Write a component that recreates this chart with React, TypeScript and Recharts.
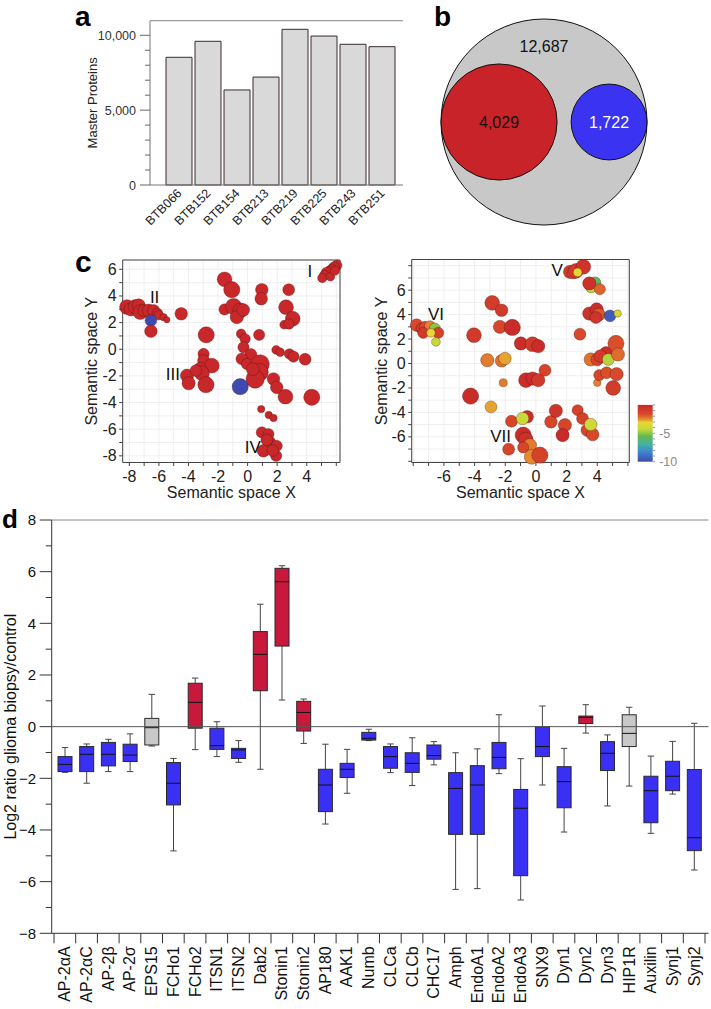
import React from "react";
import {
  BarChart,
  Bar,
  ComposedChart,
  ScatterChart,
  Scatter,
  XAxis,
  YAxis,
  ZAxis,
  CartesianGrid,
  ReferenceLine,
} from "recharts";

const FONT = "'Liberation Sans', Arial, Helvetica, sans-serif";

// ---- a: master proteins per biopsy
const biopsies = ["BTB066", "BTB152", "BTB154", "BTB213", "BTB219", "BTB225", "BTB243", "BTB251"];
const masterProteins = [8530, 9600, 6350, 7210, 10400, 9950, 9400, 9240];

// ---- b: quantified proteins and the regulated subsets
const vennNames = ["quantified", "up", "down"];
const vennCounts = [12687, 4029, 1722];

// ---- c: semantic space of GO terms, rows are [x, y, term size, log10 p]
const termsLeft: number[][] = [
  [6.03, 6.3, 2.0, 0], [5.85, 6.15, 2.2, 0], [5.69, 6.0, 2.0, 0], [5.5, 5.85, 1.8, 0], [5.35, 5.75, 2.2, 0],
  [5.2, 5.55, 1.8, 0], [5.05, 5.35, 1.6, 0], [5.6, 5.45, 1.4, 0], [5.9, 5.9, 1.6, 0],
  [-8.16, 3.17, 4.0, 0], [-7.9, 3.0, 3.2, 0], [-7.6, 3.2, 3.6, 0], [-7.37, 3.29, 3.2, 0], [-7.26, 2.79, 4.0, 0],
  [-7.0, 2.9, 2.8, 0], [-6.69, 2.91, 3.0, 0], [-6.36, 2.91, 2.6, 0], [-6.1, 2.7, 2.0, 0], [-6.02, 2.55, 1.6, 0],
  [-5.68, 2.41, 1.0, 0], [-5.46, 2.21, 0.7, 0], [-6.54, 2.16, 2.5, -10], [-6.54, 1.36, 2.9, 0], [-4.49, 2.66, 2.9, 0],
  [-1.56, 5.25, 4.0, 0], [-1.07, 4.47, 4.8, 0], [-1.56, 2.99, 2.3, 0], [-0.95, 3.21, 4.8, 0], [-0.5, 2.91, 4.0, 0],
  [-0.73, 2.41, 3.2, 0], [-0.3, 2.95, 3.0, 0], [0.96, 4.47, 2.9, 0], [0.92, 3.79, 2.9, 0],
  [2.78, 4.47, 2.6, 0], [2.6, 3.16, 4.0, 0], [3.05, 2.29, 4.0, 0], [2.47, 1.84, 1.4, 0], [2.8, 1.9, 2.0, 0],
  [0.78, 1.08, 2.3, 0], [-2.8, 1.08, 4.8, 0],
  [-0.44, 1.16, 1.7, 0], [-0.17, 0.78, 2.0, 0], [-0.28, 0.15, 2.3, 0], [0.22, -0.4, 2.6, 0], [-0.39, -0.72, 2.6, 0],
  [-0.05, -1.1, 2.3, 0], [0.85, -1.1, 6.2, 0], [0.8, -1.73, 5.8, 0], [0.51, -2.23, 6.2, 0], [0.35, -1.5, 3.0, 0],
  [1.93, -0.05, 1.4, 0], [2.2, -0.22, 1.4, 0], [2.83, -0.35, 2.0, 0], [3.1, -0.55, 2.3, 0], [3.89, -0.75, 2.6, 0],
  [1.75, -2.23, 2.9, 0], [1.97, -2.86, 2.9, 0], [2.56, -3.56, 4.0, 0], [4.34, -3.61, 4.8, 0],
  [-2.98, -0.35, 2.3, 0], [-2.98, -0.85, 2.6, 0], [-2.42, -1.23, 4.0, 0], [-3.2, -1.48, 3.2, 0], [-3.09, -1.8, 4.0, 0],
  [-4.1, -1.98, 3.2, 0], [-3.99, -2.55, 3.2, 0], [-2.82, -2.66, 4.8, 0], [-3.5, -1.6, 2.5, 0],
  [-0.5, -2.81, 4.8, -10],
  [0.92, -4.49, 1.0, 0], [1.43, -4.94, 1.0, 0], [1.75, -5.16, 1.0, 0], [0.96, -6.24, 2.3, 0], [1.41, -6.37, 2.3, 0],
  [1.48, -7.0, 2.9, 0], [1.97, -7.25, 2.3, 0], [1.07, -7.62, 2.9, 0], [1.93, -8.0, 2.3, 0], [1.3, -6.8, 2.6, 0],
  [1.7, -7.6, 2.5, 0],
];
const termsRight: number[][] = [
  [-7.78, 3.14, 2.9, -1.6], [-7.46, 2.86, 2.25, -1.0], [-7.24, 3.0, 2.25, -1.5], [-6.91, 3.05, 2.25, -2.4],
  [-6.59, 2.86, 2.25, -5.0], [-7.35, 2.51, 2.25, -0.9], [-6.37, 2.51, 2.25, -1.3], [-6.85, 2.51, 1.4, -3.1],
  [-6.52, 1.77, 1.4, -4.2],
  [-4.04, 2.32, 4.0, -0.9], [-2.85, 4.96, 4.0, -1.0], [-2.24, 4.36, 2.9, -0.9], [-2.35, 3.0, 3.2, -1.5],
  [-1.54, 2.95, 4.8, -0.2], [-0.98, 1.64, 3.2, -0.3], [-0.22, 1.58, 4.0, -0.9], [0.15, 1.42, 3.2, -0.2],
  [-3.17, 0.27, 3.2, -2.3], [-2.24, 0.22, 2.9, -2.2], [-2.02, 0.41, 2.9, -2.7],
  [-0.65, -1.36, 4.0, -0.3], [-0.22, -1.23, 3.2, -0.3], [0.15, -1.36, 3.2, -0.9], [0.59, -0.55, 2.6, -1.4],
  [-2.13, -1.58, 1.2, -2.3], [-4.26, -2.67, 4.8, -0.2], [-2.93, -3.55, 2.6, -2.7],
  [-1.59, -4.72, 2.6, -1.5], [-0.57, -4.36, 2.9, -0.2], [-0.87, -4.5, 2.9, -4.1],
  [-0.83, -5.86, 4.8, -0.2], [-0.67, -6.22, 4.0, -0.4], [-0.39, -6.68, 3.2, -2.3], [-0.83, -6.87, 2.25, -1.5],
  [-1.78, -7.01, 2.6, -1.4], [-0.28, -7.64, 4.0, -2.5], [0.26, -7.5, 4.8, -1.3],
  [0.98, -4.77, 2.9, -1.4], [1.3, -3.87, 3.2, -0.6], [1.89, -5.04, 3.2, -1.4], [1.74, -5.86, 3.2, -0.1],
  [2.72, -3.82, 2.25, -1.3], [3.04, -4.5, 2.6, -1.3], [3.35, -5.45, 2.9, -1.5], [3.7, -5.81, 2.9, -1.6],
  [3.57, -4.99, 2.9, -3.9], [4.0, -1.58, 1.0, -2.4], [5.04, -2.0, 4.0, -1.0],
  [3.57, 0.33, 3.2, -2.2], [4.0, 0.33, 2.9, -1.4], [4.57, 0.87, 2.9, -0.3], [4.2, 0.6, 3.0, -0.9],
  [4.72, 0.33, 2.6, -4.5], [4.13, -0.95, 2.25, -1.5], [4.61, -0.76, 2.6, -1.7], [5.26, -0.87, 3.2, -1.6],
  [5.22, 1.64, 4.8, -1.7], [5.35, 0.74, 3.2, -2.1], [2.87, 2.4, 2.6, -1.6],
  [3.48, 4.09, 3.2, -0.5], [3.96, 4.42, 3.2, -0.3], [4.1, 4.0, 3.0, -1.8], [3.91, 3.76, 2.6, -0.6],
  [4.83, 3.9, 2.6, -9.5], [5.33, 4.09, 1.0, -3.8],
  [3.85, 6.6, 2.6, -5.8], [3.6, 6.2, 2.0, -4.2], [3.48, 6.55, 3.2, -0.5], [4.17, 6.08, 2.25, -2.0],
  [2.22, 7.5, 3.2, -0.9], [2.45, 7.45, 3.0, -1.6], [2.61, 7.58, 4.0, -0.9], [3.09, 7.91, 4.0, -0.6],
  [2.72, 7.45, 1.4, -3.2],
];
const clustersLeft = [
  { x: 4.22, y: 5.87, label: "I" },
  { x: -6.29, y: 3.92, label: "II" },
  { x: -5.05, y: -1.85, label: "III" },
  { x: 0.35, y: -7.3, label: "IV" },
];
const clustersRight = [
  { x: 1.39, y: 7.69, label: "V" },
  { x: -6.52, y: 4.04, label: "VI" },
  { x: -2.3, y: -5.92, label: "VII" },
];

// ---- d: log2 ratio glioma biopsy / control
const proteins = [
  "AP-2αA", "AP-2αC", "AP-2β", "AP-2σ", "EPS15", "FCHo1", "FCHo2", "ITSN1", "ITSN2", "Dab2",
  "Stonin1", "Stonin2", "AP180", "AAK1", "Numb", "CLCa", "CLCb", "CHC17", "Amph", "EndoA1",
  "EndoA2", "EndoA3", "SNX9", "Dyn1", "Dyn2", "Dyn3", "HIP1R", "Auxilin", "Synj1", "Synj2",
];
const whiskerLow = [-1.77, -2.19, -1.74, -1.74, -0.75, -4.81, -0.89, -1.16, -1.38, -1.65, 1.03, -0.65, -3.77, -2.58, -0.54, -1.78, -2.28, -1.48, -6.3, -6.27, -1.82, -6.71, -2.26, -4.08, -0.25, -3.07, -2.3, -4.13, -2.61, -5.55];
const quartile1 = [-1.74, -1.74, -1.52, -1.35, -0.71, -3.03, -0.06, -0.88, -1.23, 1.39, 3.12, -0.17, -3.29, -1.97, -0.52, -1.61, -1.77, -1.26, -4.17, -4.17, -1.63, -5.77, -1.16, -3.14, 0.12, -1.7, -0.77, -3.72, -2.48, -4.8];
const medians = [-1.46, -1.07, -1.07, -1.1, -0.04, -2.19, 0.94, -0.74, -0.9, 2.8, 5.61, 0.55, -2.26, -1.65, -0.45, -1.16, -1.42, -1.12, -2.39, -2.26, -1.19, -3.16, -0.77, -2.13, 0.36, -1.03, -0.26, -2.48, -1.92, -4.3];
const quartile3 = [-1.16, -0.77, -0.61, -0.68, 0.32, -1.39, 1.68, -0.06, -0.84, 3.68, 6.13, 0.98, -1.65, -1.42, -0.22, -0.77, -1.01, -0.71, -1.78, -1.51, -0.61, -2.43, 0.0, -1.55, 0.41, -0.58, 0.46, -1.92, -1.34, -1.66];
const whiskerHigh = [-0.81, -0.67, -0.49, -0.28, 1.25, -1.23, 1.88, 0.19, -0.54, 4.74, 6.23, 1.07, -0.68, -0.88, -0.1, -0.67, -0.43, -0.58, -1.01, -0.86, 0.46, -1.24, 0.8, -0.84, 0.85, -0.32, 0.75, -1.14, -0.57, 0.13];
const regulation = [
  "down", "down", "down", "down", "ns", "down", "up", "down", "down", "up",
  "up", "up", "down", "down", "down", "down", "down", "down", "down", "down",
  "down", "down", "down", "down", "up", "down", "ns", "down", "down", "down",
];

// colour scale of panel c (log10 p), top = 0, bottom = -10
const pStops: [number, string][] = [
  [0, "#c8282a"], [0.16, "#d8482a"], [0.25, "#e3892e"], [0.31, "#e8d634"], [0.43, "#c3d93c"],
  [0.55, "#66b94f"], [0.7, "#41b1a6"], [0.82, "#4087cf"], [1, "#3d4bb0"],
];
const hex = (h: string) => [1, 3, 5].map((i) => parseInt(h.slice(i, i + 2), 16));
function pColor(p: number) {
  const f = Math.min(1, Math.max(0, -p / 10));
  for (let i = 1; i < pStops.length; i++) {
    const [f1, c1] = pStops[i];
    const [f0, c0] = pStops[i - 1];
    if (f <= f1) {
      const t = (f - f0) / (f1 - f0);
      const a = hex(c0), b = hex(c1);
      return `rgb(${a.map((v, k) => Math.round(v + (b[k] - v) * t)).join(",")})`;
    }
  }
  return pStops[pStops.length - 1][1];
}

const intRange = (a: number, b: number) => Array.from({ length: b - a + 1 }, (_, i) => a + i);
const thousands = (v: number) => String(v).replace(/\B(?=(\d{3})+(?!\d))/g, ",");

// ---------------- panel a
const aData = biopsies.map((name, i) => ({ name, value: masterProteins[i] }));
const A_MAX = 10975;

const ProteinCountTick = ({ x, y, payload }: any) => {
  const major = payload.value % 5000 === 0;
  return (
    <g>
      <line x1={x - (major ? 10 : 5)} x2={x} y1={y} y2={y} stroke="#666" />
      {major && (
        <text x={x - 14} y={y + 4.5} textAnchor="end" fontSize={12.5} fill="#333">
          {thousands(payload.value)}
        </text>
      )}
    </g>
  );
};

const BiopsyTick = ({ x, y, payload }: any) => (
  <text
    x={x + 4}
    y={y + 9}
    textAnchor="end"
    fontSize={12.5}
    fill="#222"
    transform={`rotate(-45 ${x + 4} ${y + 9})`}
  >
    {payload.value}
  </text>
);

const PanelA = () => (
  <BarChart width={420} height={240} data={aData} margin={{ top: 20.7, right: 17, bottom: 5, left: 90 }}>
    <XAxis
      dataKey="name"
      interval={0}
      height={50}
      padding={{ left: 14, right: 7 }}
      tickSize={0}
      tickMargin={0}
      tickLine={false}
      tick={BiopsyTick}
      axisLine={{ stroke: "#777" }}
    />
    <YAxis
      domain={[0, A_MAX]}
      ticks={intRange(0, 10).map((v) => v * 1000)}
      interval={0}
      width={60}
      tickSize={0}
      tickMargin={0}
      tickLine={false}
      tick={ProteinCountTick}
      axisLine={{ stroke: "#777" }}
      label={{
        value: "Master Proteins",
        angle: -90,
        position: "insideLeft",
        offset: 2,
        style: { textAnchor: "middle", fontSize: 13, fill: "#222" },
      }}
    />
    <YAxis
      yAxisId="frame"
      orientation="right"
      width={0}
      domain={[0, A_MAX]}
      tick={false}
      tickLine={false}
      axisLine={{ stroke: "#888" }}
    />
    <ReferenceLine y={A_MAX} stroke="#888" ifOverflow="visible" />
    <Bar dataKey="value" barSize={26} fill="#d9d9d9" stroke="#3a2b2b" strokeWidth={1} isAnimationActive={false} />
  </BarChart>
);

// ---------------- panel b
const B_RADIUS = 103;
const vennUnit = Math.sqrt(vennCounts[0]);
const vennData = vennCounts.map((n, i) => {
  const r = Math.sqrt(n);
  const x = i === 0 ? 0 : i === 1 ? -(vennUnit - r) : vennUnit - r;
  return { name: vennNames[i], x, y: 0, z: n };
});
const vennHalf = 110 / (B_RADIUS / vennUnit);
const vennFill: Record<string, string> = { quantified: "#c8c8c8", up: "#c9232a", down: "#3a33f2" };

const VennCircle = (props: any) => {
  const { cx, cy, width, payload } = props;
  const r = width / 2;
  const outer = payload.name === "quantified";
  return (
    <g>
      <circle cx={cx} cy={cy} r={r} fill={vennFill[payload.name]} stroke="#111" strokeWidth={1} />
      <text
        x={cx}
        y={outer ? cy - 0.73 * r + 5.5 : cy + 5.5}
        textAnchor="middle"
        fontSize={16}
        fill={payload.name === "down" ? "#fff" : "#111"}
      >
        {thousands(payload.z)}
      </text>
    </g>
  );
};

const PanelB = () => (
  <ScatterChart width={220} height={220} margin={{ top: 0, right: 0, bottom: 0, left: 0 }}>
    <XAxis type="number" dataKey="x" domain={[-vennHalf, vennHalf]} hide />
    <YAxis type="number" dataKey="y" domain={[-vennHalf, vennHalf]} hide />
    <ZAxis type="number" dataKey="z" domain={[0, vennCounts[0]]} range={[0, Math.PI * B_RADIUS * B_RADIUS]} />
    <Scatter data={vennData} shape={VennCircle} isAnimationActive={false} />
  </ScatterChart>
);

// ---------------- panel c
const TermBubble = (props: any) => {
  const { cx, cy, width, payload } = props;
  if (cx == null || !isFinite(width)) return null;
  return (
    <circle cx={cx} cy={cy} r={width / 2} fill={pColor(payload.p)} stroke="rgba(70,10,10,0.45)" strokeWidth={0.7} />
  );
};

const ClusterText = (props: any) => {
  const { cx, cy, payload } = props;
  return (
    <text x={cx} y={cy + 6} textAnchor="middle" fontSize={17} fill="#111">
      {payload.label}
    </text>
  );
};

const semXTick = (labels: number[]) => ({ x, y, payload }: any) => (
  <g>
    <line x1={x} x2={x} y1={y} y2={y + 3.5} stroke="#444" />
    {labels.includes(payload.value) && (
      <text x={x} y={y + 19} textAnchor="middle" fontSize={16} fill="#222">
        {payload.value}
      </text>
    )}
  </g>
);
const semYTick = (labels: number[]) => ({ x, y, payload }: any) => (
  <g>
    <line x1={x - 3.5} x2={x} y1={y} y2={y} stroke="#444" />
    {labels.includes(payload.value) && (
      <text x={x - 6} y={y + 5.5} textAnchor="end" fontSize={16} fill="#222">
        {payload.value}
      </text>
    )}
  </g>
);

type SemProps = {
  terms: number[][];
  clusters: { x: number; y: number; label: string }[];
  xDomain: [number, number];
  yDomain: [number, number];
  xTicks: number[];
  yTicks: number[];
  xLabels: number[];
  yLabels: number[];
  margin: { top: number; right: number; bottom: number; left: number };
  width: number;
  yLabelOffset: number;
};

const BUBBLE_R = 7.4; // px radius of a term of size 4

const SemanticSpace = ({ terms, clusters, xDomain, yDomain, xTicks, yTicks, xLabels, yLabels, margin, width, yLabelOffset }: SemProps) => {
  const data = terms.map(([x, y, z, p]) => ({ x, y, z, p }));
  const labels = clusters.map((c) => ({ ...c, z: 1 }));
  return (
    <ScatterChart width={width} height={262} margin={margin}>
      <CartesianGrid stroke="#efefef" />
      <XAxis
        type="number"
        dataKey="x"
        domain={xDomain}
        ticks={xTicks}
        interval={0}
        height={39.5}
        tickSize={0}
        tickMargin={0}
        tickLine={false}
        tick={semXTick(xLabels)}
        axisLine={{ stroke: "#444" }}
        label={{ value: "Semantic space X", position: "insideBottom", offset: 4, style: { fontSize: 16, fill: "#222" } }}
      />
      <YAxis
        type="number"
        dataKey="y"
        domain={yDomain}
        ticks={yTicks}
        interval={0}
        width={40}
        tickSize={0}
        tickMargin={0}
        tickLine={false}
        tick={semYTick(yLabels)}
        axisLine={{ stroke: "#444" }}
        label={{
          value: "Semantic space Y",
          angle: -90,
          position: "insideLeft",
          offset: yLabelOffset,
          style: { textAnchor: "middle", fontSize: 16, fill: "#222" },
        }}
      />
      <ZAxis type="number" dataKey="z" domain={[0, 8]} range={[0, 2 * Math.PI * BUBBLE_R * BUBBLE_R]} />
      <ReferenceLine x={xDomain[1]} stroke="#444" ifOverflow="visible" />
      <ReferenceLine y={yDomain[1]} stroke="#444" ifOverflow="visible" />
      <Scatter data={data} shape={TermBubble} isAnimationActive={false} />
      <Scatter data={labels} shape={ClusterText} isAnimationActive={false} />
    </ScatterChart>
  );
};

const ScaleTick = ({ x, y, payload }: any) => (
  <g>
    <line x1={x} x2={x + 2.5} y1={y} y2={y} stroke="#999" />
    {payload.value % 5 === 0 && payload.value !== 0 && (
      <text x={x + 6.5} y={y + 4.5} textAnchor="start" fontSize={12.5} fill="#8c8c8c">
        {payload.value}
      </text>
    )}
  </g>
);

const ColorScale = () => (
  <BarChart
    width={60}
    height={74}
    data={[{ name: "log10 p", range: [-10, 0] }]}
    margin={{ top: 4.9, right: 7.3, bottom: 12.3, left: 7.7 }}
    barCategoryGap={0}
  >
    <defs>
      <linearGradient id="pscale" x1="0" y1="0" x2="0" y2="1">
        {pStops.map(([o, c]) => (
          <stop key={o} offset={o} stopColor={c} />
        ))}
      </linearGradient>
    </defs>
    <XAxis dataKey="name" hide />
    <YAxis
      orientation="right"
      domain={[-10, 0]}
      ticks={intRange(-10, 0)}
      interval={0}
      width={30}
      tickSize={0}
      tickMargin={0}
      tickLine={false}
      axisLine={false}
      tick={ScaleTick}
    />
    <Bar dataKey="range" fill="url(#pscale)" isAnimationActive={false} />
  </BarChart>
);

// ---------------- panel d
const boxData = proteins.map((name, i) => ({
  name,
  range: [whiskerLow[i], whiskerHigh[i]],
  lo: whiskerLow[i],
  q1: quartile1[i],
  med: medians[i],
  q3: quartile3[i],
  hi: whiskerHigh[i],
  reg: regulation[i],
}));
const boxFill: Record<string, string> = { down: "#3a30f3", up: "#c8183c", ns: "#c8c8c8" };
const D_PLOT_W = 711 - 2.5 - 51.7;
const D_PAD = { left: 2.3, right: 3.5 };
const D_BAND = (D_PLOT_W - D_PAD.left - D_PAD.right) / proteins.length;

const BoxShape = (props: any) => {
  const { x, y, width, height, payload } = props;
  const top = Math.min(y, y + height);
  const h = Math.abs(height);
  const { lo, q1, med, q3, hi, reg } = payload;
  const py = (v: number) => top + ((hi - v) / (hi - lo)) * h;
  const cx = x + width / 2;
  const cap = 3.2;
  return (
    <g>
      <line x1={cx} x2={cx} y1={py(hi)} y2={py(q3)} stroke="#444" />
      <line x1={cx} x2={cx} y1={py(q1)} y2={py(lo)} stroke="#444" />
      <line x1={cx - cap} x2={cx + cap} y1={py(hi)} y2={py(hi)} stroke="#444" />
      <line x1={cx - cap} x2={cx + cap} y1={py(lo)} y2={py(lo)} stroke="#444" />
      <rect x={x} y={py(q3)} width={width} height={Math.max(py(q1) - py(q3), 0.5)} fill={boxFill[reg]} stroke="#2a2a2a" />
      <line x1={x} x2={x + width} y1={py(med)} y2={py(med)} stroke="#111" />
    </g>
  );
};

const ProteinTick = ({ x, y, payload, index }: any) => (
  <g>
    <line x1={x - D_BAND / 2} x2={x - D_BAND / 2} y1={y} y2={y + 10} stroke="#333" />
    {index === proteins.length - 1 && <line x1={x + D_BAND / 2} x2={x + D_BAND / 2} y1={y} y2={y + 10} stroke="#333" />}
    <text
      x={x + 5.5}
      y={y + 13}
      textAnchor="end"
      fontSize={16}
      fill="#111"
      transform={`rotate(-90 ${x + 5.5} ${y + 13})`}
    >
      {payload.value}
    </text>
  </g>
);

const LogRatioTick = ({ x, y, payload }: any) => {
  const v = payload.value;
  const major = v % 2 === 0;
  return (
    <g>
      <line x1={x - (major ? 12 : 6)} x2={x} y1={y} y2={y} stroke="#333" />
      {major && (
        <text x={x - 15.5} y={y + 5.2} textAnchor="end" fontSize={15} fill="#111">
          {v < 0 ? `\u2212${-v}` : v}
        </text>
      )}
    </g>
  );
};

const PanelD = () => (
  <ComposedChart width={711} height={509} data={boxData} margin={{ top: 20, right: 2.5, bottom: 0, left: 0 }}>
    <XAxis
      dataKey="name"
      interval={0}
      height={75.7}
      padding={D_PAD}
      tickSize={0}
      tickMargin={0}
      tickLine={false}
      tick={ProteinTick}
      axisLine={{ stroke: "#333" }}
    />
    <YAxis
      domain={[-8, 8]}
      ticks={intRange(-8, 8)}
      interval={0}
      width={51.7}
      tickSize={0}
      tickMargin={0}
      tickLine={false}
      tick={LogRatioTick}
      axisLine={{ stroke: "#333" }}
      label={{
        value: "Log2 ratio glioma biopsy/control",
        angle: -90,
        position: "insideLeft",
        offset: 10,
        style: { textAnchor: "middle", fontSize: 16, fill: "#111" },
      }}
    />
    <YAxis yAxisId="frame" orientation="right" width={0} domain={[-8, 8]} tick={false} tickLine={false} axisLine={{ stroke: "#8a8a8a" }} />
    <ReferenceLine y={8} stroke="#8a8a8a" ifOverflow="visible" />
    <ReferenceLine y={0} stroke="#555" />
    <Bar dataKey="range" barSize={14} shape={BoxShape} isAnimationActive={false} />
  </ComposedChart>
);

const letter = (ch: string, left: number, baseline: number, size: number) => (
  <svg style={{ position: "absolute", left, top: baseline - size, overflow: "visible" }} width={size} height={size * 1.2}>
    <text x={0} y={size} fontSize={size} fontWeight={700} fill="#000">
      {ch}
    </text>
  </svg>
);

export default function App() {
  return (
    <div
      style={{
        position: "absolute",
        left: 0,
        top: 0,
        width: 711,
        height: 1009,
        background: "#fff",
        fontFamily: FONT,
        overflow: "hidden",
      }}
    >
      <div style={{ position: "absolute", left: 0, top: 0 }}>
        <PanelA />
      </div>
      <div style={{ position: "absolute", left: 434.2, top: 12 }}>
        <PanelB />
      </div>
      <div style={{ position: "absolute", left: 0, top: 240 }}>
        <SemanticSpace
          terms={termsLeft}
          clusters={clustersLeft}
          xDomain={[-8.45, 6.25]}
          yDomain={[-8.5, 6.7]}
          xTicks={intRange(-8, 6)}
          yTicks={intRange(-8, 6)}
          xLabels={[-8, -6, -4, -2, 0, 2, 4]}
          yLabels={[-8, -6, -4, -2, 0, 2, 4, 6]}
          margin={{ top: 20, right: 20, bottom: 0, left: 82.7 }}
          width={360}
          yLabelOffset={8.3}
        />
      </div>
      <div style={{ position: "absolute", left: 350, top: 240 }}>
        <SemanticSpace
          terms={termsRight}
          clusters={clustersRight}
          xDomain={[-8.1, 6.09]}
          yDomain={[-8.1, 8.51]}
          xTicks={intRange(-8, 6)}
          yTicks={intRange(-8, 8)}
          xLabels={[-6, -4, -2, 0, 2, 4]}
          yLabels={[-6, -4, -2, 0, 2, 4, 6]}
          margin={{ top: 19.5, right: 81.7, bottom: 0, left: 21.7 }}
          width={361}
          yLabelOffset={9.3}
        />
      </div>
      <div style={{ position: "absolute", left: 630, top: 400 }}>
        <ColorScale />
      </div>
      <div style={{ position: "absolute", left: 0, top: 500 }}>
        <PanelD />
      </div>
      {letter("a", 75, 26, 28)}
      {letter("b", 434, 26, 28)}
      {letter("c", 75, 272, 30)}
      {letter("d", 2, 528, 26)}
    </div>
  );
}
